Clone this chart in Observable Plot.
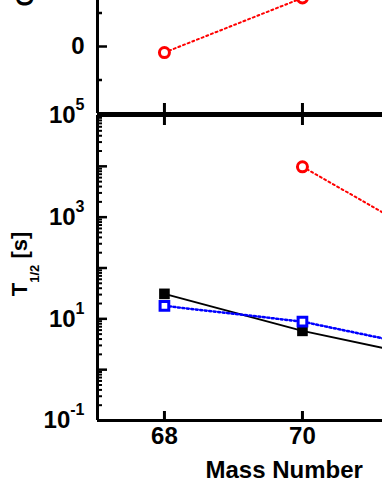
<!DOCTYPE html>
<html>
<head>
<meta charset="utf-8">
<script src="https://cdn.jsdelivr.net/npm/d3@7"></script>
<script src="https://cdn.jsdelivr.net/npm/@observablehq/plot@0.6"></script>
<style>
  html, body { margin: 0; padding: 0; background: #fff; overflow: hidden; }
  #chart { position: relative; width: 382px; height: 494px; }
  #chart svg { position: absolute; left: 0; background: transparent; overflow: hidden; }
</style>
</head>
<body>
<div id="chart"></div>
<script>
// ---------- data ----------
const massNumbers = [68, 70];
const xTickLabels = ["68", "70"];

// top panel (Q-value like quantity)
const qMass = [68, 70];
const qValues = [-0.18, 1.45];
const qMajorTicks = [0];
const qMinorTicks = [1, -1];

// bottom panel: half-lives [s]
const expMass = [68, 70, 72];
const expHalfLife = [31, 5.8, 1.55];        // black filled squares, solid line
const blueMass = [68, 70, 72];
const blueHalfLife = [18, 8.8, 2.4];        // blue open squares, dotted line
const redMass = [70, 72];
const redHalfLife = [9800, 280];            // red open circles, dotted line
const yDecades = [-1, 0, 1, 2, 3, 4, 5];
const yLabelDecades = [-1, 1, 3, 5];

// ---------- derived tables ----------
const qData = qMass.map((m, i) => ({mass: m, value: qValues[i]}));
const expData = expMass.map((m, i) => ({mass: m, t: expHalfLife[i]}));
const blueData = blueMass.map((m, i) => ({mass: m, t: blueHalfLife[i]}));
const redData = redMass.map((m, i) => ({mass: m, t: redHalfLife[i]}));
const logMajor = yDecades.map(e => 10 ** e);
const logMinor = [];
for (const e of yDecades.slice(0, -1)) for (let m = 2; m <= 9; m++) logMinor.push(m * 10 ** e);

const fontFamily = '"Liberation Sans", Arial, Helvetica, sans-serif';
const W = 382, ML = 97;
const frameW = W - ML;
const xDomain = [67.03, 71.16];

// ---------- top panel ----------
const topH = 116, topMB = 3;
const topFrameH = topH - topMB;
const topPlot = Plot.plot({
  width: W, height: topH,
  marginLeft: ML, marginRight: 0, marginTop: 0, marginBottom: topMB,
  x: {domain: xDomain, axis: null},
  y: {domain: [-2, 46 / 33.5], axis: null},
  style: {fontFamily, background: "transparent"},
  marks: [
    Plot.line(qData, {x: "mass", y: "value", stroke: "#ff0000", strokeWidth: 2, strokeDasharray: "2,3", clip: true}),
    Plot.dot(qData, {x: "mass", y: "value", r: 5, stroke: "#ff0000", strokeWidth: 3, fill: "white"}),
    Plot.tickY(qMajorTicks, {y: d => d, stroke: "black", strokeWidth: 2.5, insetRight: frameW - 10}),
    Plot.tickY(qMinorTicks, {y: d => d, stroke: "black", strokeWidth: 2.5, insetRight: frameW - 5}),
    Plot.tickX(massNumbers, {x: d => d, stroke: "black", strokeWidth: 3, insetTop: topFrameH - 10}),
    Plot.ruleY([-2], {stroke: "black", strokeWidth: 3}),
    Plot.ruleX([xDomain[0]], {stroke: "black", strokeWidth: 3}),
    Plot.text(qMajorTicks, {y: d => d, text: d => String(d), frameAnchor: "left", textAnchor: "end", dx: -13, fontSize: 24, fontWeight: "bold", fill: "black"}),
    Plot.text(["Q"], {text: d => d, frameAnchor: "top-left", textAnchor: "start", rotate: -90, dx: -81, dy: 6, fontSize: 23, fontWeight: "bold", fill: "black"})
  ]
});

// ---------- bottom panel ----------
const botTop = 88, botH = 494 - botTop, botMT = 115 - botTop, botMB = botTop + botH - 420;
const botFrameH = botH - botMT - botMB;
const botPlot = Plot.plot({
  width: W, height: botH,
  marginLeft: ML, marginRight: 0, marginTop: botMT, marginBottom: botMB,
  x: {domain: xDomain, axis: null},
  y: {type: "log", domain: [0.1, 1e5], axis: null},
  style: {fontFamily, background: "transparent"},
  marks: [
    Plot.tickY(logMajor, {y: d => d, stroke: "black", strokeWidth: 2.5, insetRight: frameW - 10}),
    Plot.tickY(logMinor, {y: d => d, stroke: "black", strokeWidth: 2, insetRight: frameW - 5}),
    Plot.tickX(massNumbers, {x: d => d, stroke: "black", strokeWidth: 3, insetTop: botFrameH - 9}),
    Plot.tickX(massNumbers, {x: d => d, stroke: "black", strokeWidth: 3, insetBottom: botFrameH - 10}),
    Plot.ruleY([1e5], {stroke: "black", strokeWidth: 3}),
    Plot.ruleY([0.1], {stroke: "black", strokeWidth: 3}),
    Plot.ruleX([xDomain[0]], {stroke: "black", strokeWidth: 3}),

    Plot.line(redData, {x: "mass", y: "t", stroke: "#ff0000", strokeWidth: 2, strokeDasharray: "2,3", clip: true}),
    Plot.dot(redData, {x: "mass", y: "t", r: 5, stroke: "#ff0000", strokeWidth: 3, fill: "white", clip: true}),
    Plot.line(expData, {x: "mass", y: "t", stroke: "black", strokeWidth: 2, clip: true}),
    Plot.dot(expData, {x: "mass", y: "t", symbol: "square", r: 6, fill: "black", stroke: "none", clip: true}),
    Plot.line(blueData, {x: "mass", y: "t", stroke: "#0000ff", strokeWidth: 2.5, strokeDasharray: "2,2.5", clip: true}),
    Plot.dot(blueData, {x: "mass", y: "t", symbol: "square", r: 4.9, stroke: "#0000ff", strokeWidth: 3, fill: "white", clip: true}),

    Plot.text(yLabelDecades, {y: d => 10 ** d, text: d => `10^${d}`, frameAnchor: "left", textAnchor: "end", dx: -13, fontSize: 24, fontWeight: "bold", fill: "black"}),
    Plot.text(massNumbers, {x: d => d, text: (d, i) => xTickLabels[i], frameAnchor: "bottom", dy: 23, fontSize: 24, fontWeight: "bold", fill: "black"}),
    Plot.text(["Mass Number"], {text: d => d, frameAnchor: "bottom-left", textAnchor: "start", dx: 205 - ML, dy: 57, fontSize: 24, fontWeight: "bold", fill: "black", letterSpacing: 1}),
    Plot.text(["T_1/2 [s]"], {text: d => d, frameAnchor: "left", textAnchor: "middle", rotate: -90, dx: 19.5 - ML, dy: -4, fontSize: 22, fontWeight: "bold", fill: "black"})
  ]
});

// ---------- rich text (superscripts / subscripts) ----------
d3.select(botPlot).selectAll("text").each(function () {
  const s = this.textContent;
  if (s.startsWith("10^")) {
    const [b, e] = s.split("^");
    const t = d3.select(this).text(null);
    t.append("tspan").text(b);
    t.append("tspan").attr("dy", -13).attr("font-size", 16).text(e);
  } else if (s.startsWith("T_1/2")) {
    const t = d3.select(this).text(null);
    t.append("tspan").text("T");
    t.append("tspan").attr("dy", 12).attr("font-size", 13).text("1/2");
    t.append("tspan").attr("dy", -12).text(" [s]");
  }
});

topPlot.style.top = "0px";
botPlot.style.top = botTop + "px";
const chart = document.getElementById("chart");
chart.appendChild(topPlot);
chart.appendChild(botPlot);
</script>
</body>
</html>
